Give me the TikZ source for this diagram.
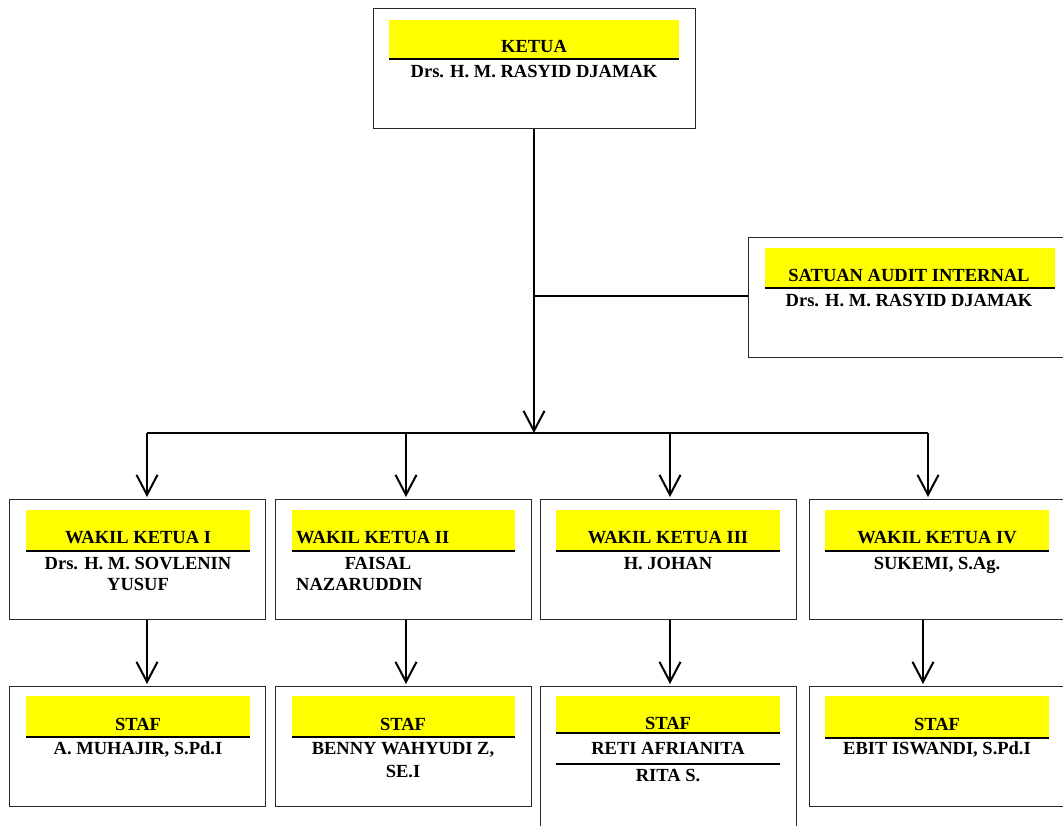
\documentclass[tikz,border=0pt]{standalone}
\usepackage{fontspec}
\setmainfont{Liberation Serif}
\usetikzlibrary{arrows.meta}
\definecolor{ylw}{RGB}{255,255,0}
\definecolor{bordergray}{RGB}{40,40,40}
\begin{document}
\begin{tikzpicture}[x=1pt,y=-1pt,
  box/.style={draw=bordergray,line width=1.4pt,fill=white,inner sep=0,anchor=north west,minimum height=120pt},
  bar/.style={fill=ylw,inner sep=0,anchor=north west},
  uline/.style={line width=2pt,black},
  txt/.style={inner sep=0,anchor=base,font=\fontsize{18.5}{21}\selectfont\bfseries},
  txtl/.style={txt,anchor=base west},
  conn/.style={line width=2pt,black},
  arr/.style={conn,-{Straight Barb[length=20pt,width=21pt,line width=2pt]}}]
\useasboundingbox (0,0) rectangle (1063,825);
% ---- KETUA
\node[box,minimum width=322pt] (k) at (373,8) {};
\node[bar,minimum width=290pt,minimum height=39pt] (kb) at (389,20) {};
\draw[uline] (kb.south west) -- (kb.south east);
\node[txt] (kt) at (534,52) {KETUA};
\node[txt] (kn) at (534,77) {Drs. H. M. RASYID DJAMAK};
% ---- SATUAN AUDIT INTERNAL
\node[box,minimum width=330pt] (a) at (748,237) {};
\node[bar,minimum width=290pt,minimum height=40pt] (ab) at (765,248) {};
\draw[uline] (ab.south west) -- (ab.south east);
\node[txt] (at) at (909,281) {SATUAN AUDIT INTERNAL};
\node[txt] (an) at (909,306) {Drs. H. M. RASYID DJAMAK};
% ---- WAKIL KETUA boxes
\node[box,minimum width=256pt] (w1) at (9,499) {};
\node[bar,minimum width=224pt,minimum height=41pt] (w1b) at (26,510) {};
\draw[uline] (w1b.south west) -- (w1b.south east);
\node[txt] (w1t) at (138,543) {WAKIL KETUA I};
\node[txt] (w1n) at (138,569) {Drs. H. M. SOVLENIN};
\node[txt] (w1m) at (138,590) {YUSUF};

\node[box,minimum width=256pt] (w2) at (275,499) {};
\node[bar,minimum width=223pt,minimum height=41pt] (w2b) at (292,510) {};
\draw[uline] (w2b.south west) -- (w2b.south east);
\node[txtl] (w2t) at (296,543) {WAKIL KETUA II};
\node[txt] (w2n) at (378,569) {FAISAL};
\node[txtl] (w2m) at (296,590) {NAZARUDDIN};

\node[box,minimum width=256pt] (w3) at (540,499) {};
\node[bar,minimum width=224pt,minimum height=41pt] (w3b) at (556,510) {};
\draw[uline] (w3b.south west) -- (w3b.south east);
\node[txt] (w3t) at (668,543) {WAKIL KETUA III};
\node[txt] (w3n) at (668,569) {H. JOHAN};

\node[box,minimum width=254pt] (w4) at (809,499) {};
\node[bar,minimum width=224pt,minimum height=41pt] (w4b) at (825,510) {};
\draw[uline] (w4b.south west) -- (w4b.south east);
\node[txt] (w4t) at (937,543) {WAKIL KETUA IV};
\node[txt] (w4n) at (937,569) {SUKEMI, S.Ag.};
% ---- STAF boxes
\node[box,minimum width=256pt] (s1) at (9,686) {};
\node[bar,minimum width=224pt,minimum height=41pt] (s1b) at (26,696) {};
\draw[uline] (s1b.south west) -- (s1b.south east);
\node[txt] (s1t) at (138,730) {STAF};
\node[txt] (s1n) at (138,754) {A. MUHAJIR, S.Pd.I};

\node[box,minimum width=256pt] (s2) at (275,686) {};
\node[bar,minimum width=223pt,minimum height=41pt] (s2b) at (292,696) {};
\draw[uline] (s2b.south west) -- (s2b.south east);
\node[txt] (s2t) at (403,730) {STAF};
\node[txt] (s2n) at (403,754) {BENNY WAHYUDI Z,};
\node[txt] (s2m) at (403,777) {SE.I};

\node[box,minimum width=256pt,minimum height=160pt] (s3) at (540,686) {};
\node[bar,minimum width=224pt,minimum height=37pt] (s3b) at (556,696) {};
\draw[uline] (s3b.south west) -- (s3b.south east);
\node[txt] (s3t) at (668,729) {STAF};
\node[txt] (s3n) at (668,754) {RETI AFRIANITA};
\coordinate (s3l) at (556,764);
\draw[uline] (s3l) -- ++(224,0);
\node[txt] (s3m) at (668,781) {RITA S.};

\node[box,minimum width=254pt] (s4) at (809,686) {};
\node[bar,minimum width=224pt,minimum height=42pt] (s4b) at (825,696) {};
\draw[uline] (s4b.south west) -- (s4b.south east);
\node[txt] (s4t) at (937,730) {STAF};
\node[txt] (s4n) at (937,754) {EBIT ISWANDI, S.Pd.I};
% ---- connectors
\coordinate (bus) at (534,433);
\coordinate (j) at (534,296);
\coordinate (d1) at (147,433);
\coordinate (d2) at (406,433);
\coordinate (d3) at (670,433);
\coordinate (d4) at (928,433);
\coordinate (e4) at (923,620);
\draw[arr] (bus |- k.south) -- (bus);
\draw[conn] (j) -- (j -| a.west);
\draw[conn] (d1) -- (d4);
\draw[arr,shorten >=2pt] (d1) -- (d1 |- w1.north);
\draw[arr,shorten >=2pt] (d2) -- (d2 |- w2.north);
\draw[arr,shorten >=2pt] (d3) -- (d3 |- w3.north);
\draw[arr,shorten >=2pt] (d4) -- (d4 |- w4.north);
\draw[arr,shorten >=2pt] (w1.south -| d1) -- (s1.north -| d1);
\draw[arr,shorten >=2pt] (w2.south -| d2) -- (s2.north -| d2);
\draw[arr,shorten >=2pt] (w3.south -| d3) -- (s3.north -| d3);
\draw[arr,shorten >=2pt] (w4.south -| e4) -- (s4.north -| e4);
\end{tikzpicture}
\end{document}
